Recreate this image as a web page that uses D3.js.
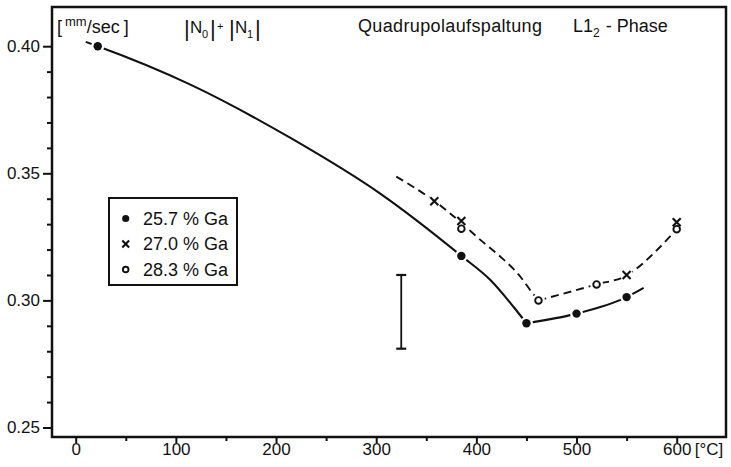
<!DOCTYPE html>
<html>
<head>
<meta charset="utf-8">
<script src="https://cdn.jsdelivr.net/npm/d3@7"></script>
<style>
  body { margin: 0; background: #fff; }
  text { font-family: "Liberation Sans", Arial, sans-serif; fill: #111; }
</style>
</head>
<body>
<svg id="chart" width="731" height="467"></svg>
<script>
// measured points, 25.7 % Ga (filled circles)
var tempA = [22, 385, 450, 500, 550];
var qsA = [0.400, 0.3175, 0.291, 0.2948, 0.3013];
// 27.0 % Ga (crosses)
var tempB = [358, 385, 550, 600];
var qsB = [0.339, 0.3312, 0.310, 0.3307];
// 28.3 % Ga (open circles)
var tempC = [385, 462, 520, 600];
var qsC = [0.3282, 0.300, 0.3063, 0.328];

// hand drawn curves (solid for 25.7, dashed for 27.0 / 28.3)
var solidLeftT = [10, 22, 114, 214, 304, 385, 414, 437, 450];
var solidLeftQ = [0.4017, 0.400, 0.3850, 0.3640, 0.3420, 0.3175, 0.308, 0.2975, 0.291];
var solidRightT = [450, 500, 550, 567];
var solidRightQ = [0.291, 0.2948, 0.3013, 0.3049];
var dashLeftT = [320, 358, 385, 404, 424, 444, 455, 462];
var dashLeftQ = [0.3487, 0.3391, 0.3305, 0.3238, 0.3172, 0.3093, 0.3034, 0.300];
var dashRightT = [462, 520, 550, 577, 593, 600];
var dashRightQ = [0.300, 0.3063, 0.3098, 0.3185, 0.325, 0.328];

// error bar
var errT = [325];
var errLow = [0.281];
var errHigh = [0.310];

var xTicks = [0, 100, 200, 300, 400, 500, 600];
var xMinor = [50, 150, 250, 350, 450, 550];
var yTicks = [0.25, 0.30, 0.35, 0.40];
var yMinor = [0.26, 0.27, 0.28, 0.29, 0.31, 0.32, 0.33, 0.34, 0.36, 0.37, 0.38, 0.39];
var legendLabels = ["25.7 % Ga", "27.0 % Ga", "28.3 % Ga"];
var legendSymbols = ["dot", "cross", "ring"];

var svg = d3.select("#chart");
var frame = {left: 52, right: 726, top: 7, bottom: 437};

var x = d3.scaleLinear().domain([0, 600]).range([75.7, 676.7]);
var y = d3.scaleLinear().domain([0.25, 0.40]).range([427.5, 46.2]);

svg.append("rect").attr("width", 731).attr("height", 467).attr("fill", "#fff");

// axes
var xAxis = svg.append("g").attr("transform", "translate(0," + frame.bottom + ")")
  .call(d3.axisBottom(x).tickValues(xTicks).tickSize(6).tickPadding(0));
var xAxisMinor = svg.append("g").attr("transform", "translate(0," + frame.bottom + ")")
  .call(d3.axisBottom(x).tickValues(xMinor).tickSize(4).tickFormat(""));
var yAxis = svg.append("g").attr("transform", "translate(" + frame.left + ",0)")
  .call(d3.axisLeft(y).tickValues(yTicks).tickSize(9).tickPadding(3).tickFormat(d3.format(".2f")));
var yAxisMinor = svg.append("g").attr("transform", "translate(" + frame.left + ",0)")
  .call(d3.axisLeft(y).tickValues(yMinor).tickSize(5).tickFormat(""));

[xAxis, xAxisMinor, yAxis, yAxisMinor].forEach(function(g) {
  g.select(".domain").remove();
  g.selectAll("line").attr("stroke", "#111").attr("stroke-width", 2);
  g.selectAll("text").attr("font-size", 17).attr("fill", "#111")
    .style("font-family", "'Liberation Sans', Arial, sans-serif");
});

// unit after 600
svg.append("text").attr("x", x(600) + 18).attr("y", frame.bottom + 18)
  .attr("font-size", 17).text("[°C]");

// frame
svg.append("rect")
  .attr("x", frame.left).attr("y", frame.top)
  .attr("width", frame.right - frame.left).attr("height", frame.bottom - frame.top)
  .attr("fill", "none").attr("stroke", "#111").attr("stroke-width", 2.5);

// header texts
var unit = svg.append("text").attr("x", 57).attr("y", 33).attr("font-size", 18);
unit.append("tspan").text("[");
unit.append("tspan").attr("dx", 3).attr("dy", -7).attr("font-size", 13).text("mm");
unit.append("tspan").attr("dy", 7).text("/sec");
unit.append("tspan").attr("dx", 4).text("]");

var nn = svg.append("text").attr("font-size", 17);
nn.append("tspan").attr("x", 184).attr("y", 36).attr("font-size", 22).text("|");
nn.append("tspan").attr("x", 190).attr("y", 33).text("N");
nn.append("tspan").attr("x", 202).attr("y", 38).attr("font-size", 11).text("0");
nn.append("tspan").attr("x", 210).attr("y", 36).attr("font-size", 22).text("|");
nn.append("tspan").attr("x", 217).attr("y", 30).attr("font-size", 11).text("+");
nn.append("tspan").attr("x", 229).attr("y", 36).attr("font-size", 22).text("|");
nn.append("tspan").attr("x", 235).attr("y", 33).text("N");
nn.append("tspan").attr("x", 247).attr("y", 38).attr("font-size", 11).text("1");
nn.append("tspan").attr("x", 255).attr("y", 36).attr("font-size", 22).text("|");

svg.append("text").attr("x", 358).attr("y", 32).attr("font-size", 18)
  .attr("textLength", 184).attr("lengthAdjust", "spacing").text("Quadrupolaufspaltung");

var phase = svg.append("text").attr("x", 573).attr("y", 32).attr("font-size", 18);
phase.append("tspan").text("L1");
phase.append("tspan").attr("dy", 5).attr("font-size", 12).text("2");
phase.append("tspan").attr("dx", 6).attr("dy", -5).text("- Phase");

// curves
var line = d3.line()
  .x(function(d) { return x(d[0]); })
  .y(function(d) { return y(d[1]); })
  .curve(d3.curveMonotoneX);

function pairs(t, q) { return t.map(function(v, i) { return [v, q[i]]; }); }

[[solidLeftT, solidLeftQ], [solidRightT, solidRightQ]].forEach(function(c) {
  svg.append("path").attr("d", line(pairs(c[0], c[1])))
    .attr("fill", "none").attr("stroke", "#111").attr("stroke-width", 2.1);
});
[[dashLeftT, dashLeftQ], [dashRightT, dashRightQ]].forEach(function(c) {
  svg.append("path").attr("d", line(pairs(c[0], c[1])))
    .attr("fill", "none").attr("stroke", "#111").attr("stroke-width", 1.9)
    .attr("stroke-dasharray", "8,5");
});

// error bar
var eb = svg.append("g").attr("stroke", "#111").attr("stroke-width", 1.8);
errT.forEach(function(t, i) {
  eb.append("line").attr("x1", x(t)).attr("x2", x(t)).attr("y1", y(errLow[i])).attr("y2", y(errHigh[i]));
  [errLow[i], errHigh[i]].forEach(function(v) {
    eb.append("line").attr("x1", x(t) - 5).attr("x2", x(t) + 5).attr("y1", y(v)).attr("y2", y(v)).attr("stroke-width", 2.2);
  });
});

// markers
function drawMarker(g, kind, cx, cy, s) {
  if (kind === "dot") {
    g.append("circle").attr("cx", cx).attr("cy", cy).attr("r", 4.2 * s).attr("fill", "#111");
  } else if (kind === "ring") {
    g.append("circle").attr("cx", cx).attr("cy", cy).attr("r", 3.3 * s)
      .attr("fill", "#fff").attr("stroke", "#111").attr("stroke-width", 1.9);
  } else {
    var h = 4 * s;
    g.append("path").attr("d", "M" + (cx - h) + "," + (cy - h) + "L" + (cx + h) + "," + (cy + h) +
      "M" + (cx - h) + "," + (cy + h) + "L" + (cx + h) + "," + (cy - h))
      .attr("stroke", "#111").attr("stroke-width", 2.1).attr("fill", "none");
  }
}

var sets = [[tempA, qsA, "dot"], [tempB, qsB, "cross"], [tempC, qsC, "ring"]];
var halo = svg.append("g");
var marks = svg.append("g");
sets.forEach(function(s) {
  s[0].forEach(function(t, i) {
    halo.append("circle").attr("cx", x(t)).attr("cy", y(s[1][i])).attr("r", 6.5).attr("fill", "#fff");
    drawMarker(marks, s[2], x(t), y(s[1][i]), 1);
  });
});

// legend
var lg = svg.append("g");
lg.append("rect").attr("x", 109).attr("y", 198).attr("width", 128).attr("height", 87)
  .attr("fill", "#fff").attr("stroke", "#111").attr("stroke-width", 2);
legendLabels.forEach(function(lab, i) {
  var ry = 218.5 + i * 25.5;
  drawMarker(lg, legendSymbols[i], 125.7, ry, 0.85);
  lg.append("text").attr("x", 143).attr("y", ry).attr("dy", "0.36em")
    .attr("font-size", 18).text(lab);
});
</script>
</body>
</html>
